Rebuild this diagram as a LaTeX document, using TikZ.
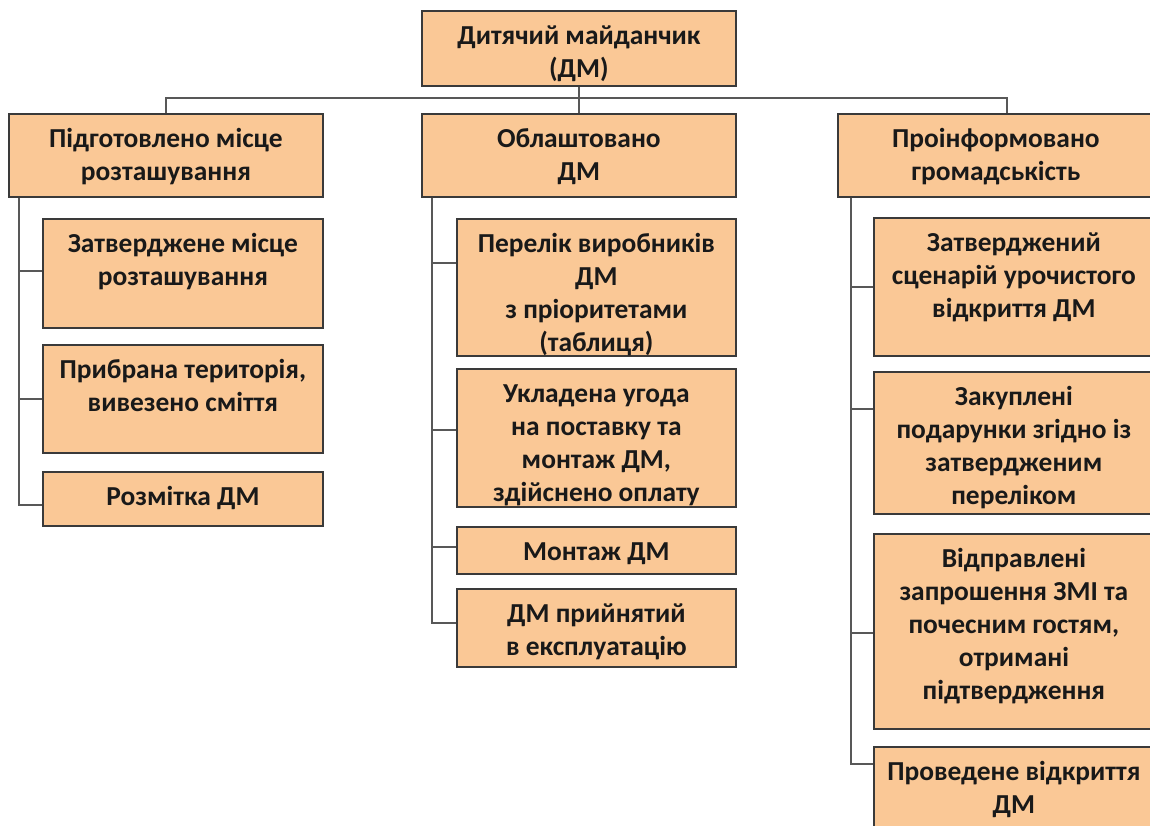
\documentclass[tikz,border=0pt]{standalone}
\usepackage{fontspec}
\setmainfont{Carlito}
\usetikzlibrary{positioning}
\definecolor{peach}{HTML}{FAC896}
\definecolor{edge}{HTML}{3A3A3A}
\tikzset{blk/.style={draw=edge, fill=peach, line width=1.2pt, inner sep=0pt, anchor=north west,
    font=\bfseries\fontsize{19.5}{23.4}\selectfont, text=black!90},
  link/.style={draw=edge!85, line width=1pt}}
% fixed-size box, text set from the top
\newcommand\cell[3]{\parbox[c][#2][t]{#1}{\centering\rule{0pt}{0.85cm}#3}}

\begin{document}
\begin{tikzpicture}[x=0.025cm,y=-0.025cm]
\useasboundingbox (0,0) rectangle (1150,826);
\clip (0,0) rectangle (1150,826);
\fill[white] (0,0) rectangle (1150,826);

% root and first level
\node[blk] (root) at (421,10) {\cell{7.85cm}{1.875cm}{Дитячий майданчик\\(ДМ)}};
\node[blk] (place) at (8,113) {\cell{7.85cm}{2.075cm}{Підготовлено місце\\розташування}};
\node[blk] (equip) at (421,113) {\cell{7.85cm}{2.075cm}{Облаштовано\\ДМ}};
\node[blk] (inform) at (837,113) {\cell{7.9cm}{2.075cm}{Проінформовано\\громадськість}};

% left column
\node[blk] (lc1) at (42,218) {\cell{7cm}{2.725cm}{Затверджене місце\\розташування}};
\node[blk] (lc2) at (42,344) {\cell{7cm}{2.7cm}{Прибрана територія,\\вивезено сміття}};
\node[blk] (lc3) at (42,471) {\cell{7cm}{1.35cm}{Розмітка ДМ}};

% middle column
\node[blk] (mc1) at (456,218) {\cell{6.975cm}{3.425cm}{Перелік виробників\\ДМ\\з пріоритетами\\(таблиця)}};
\node[blk] (mc2) at (456,368) {\cell{6.975cm}{3.45cm}{Укладена угода\\на поставку та\\монтаж ДМ,\\здійснено оплату}};
\node[blk] (mc3) at (456,526) {\cell{6.975cm}{1.175cm}{Монтаж ДМ}};
\node[blk] (mc4) at (456,588) {\cell{6.975cm}{1.95cm}{ДМ прийнятий\\в експлуатацію}};

% right column
\node[blk] (rc1) at (873,217) {\cell{7cm}{3.45cm}{Затверджений\\сценарій урочистого\\відкриття ДМ}};
\node[blk] (rc2) at (873,371) {\cell{7cm}{3.55cm}{Закуплені\\подарунки згідно із\\затвердженим\\переліком}};
\node[blk] (rc3) at (873,533) {\cell{7cm}{4.875cm}{Відправлені\\запрошення ЗМІ та\\почесним гостям,\\отримані\\підтвердження}};
\node[blk] (rc4) at (873,746) {\cell{7cm}{2.4cm}{Проведене відкриття\\ДМ}};

% connectors
\coordinate (bus) at (1007,98);
\draw[link] (root.south) -- (equip.north);
\draw[link] (place.north) |- (bus) -- (bus |- inform.north);

\coordinate (ls) at ([xshift=11*0.025cm]place.south west);
\coordinate (ms) at ([xshift=11*0.025cm]equip.south west);
\coordinate (rs) at ([xshift=14*0.025cm]inform.south west);
\foreach \n/\dy in {lc1/53,lc2/55,lc3/34}
  \draw[link] (ls) |- ([yshift=-\dy*0.025cm]\n.north west);
\foreach \n/\dy in {mc1/45,mc2/62,mc3/21,mc4/35}
  \draw[link] (ms) |- ([yshift=-\dy*0.025cm]\n.north west);
\foreach \n/\dy in {rc1/70,rc2/38,rc3/100,rc4/18}
  \draw[link] (rs) |- ([yshift=-\dy*0.025cm]\n.north west);
\end{tikzpicture}
\end{document}
